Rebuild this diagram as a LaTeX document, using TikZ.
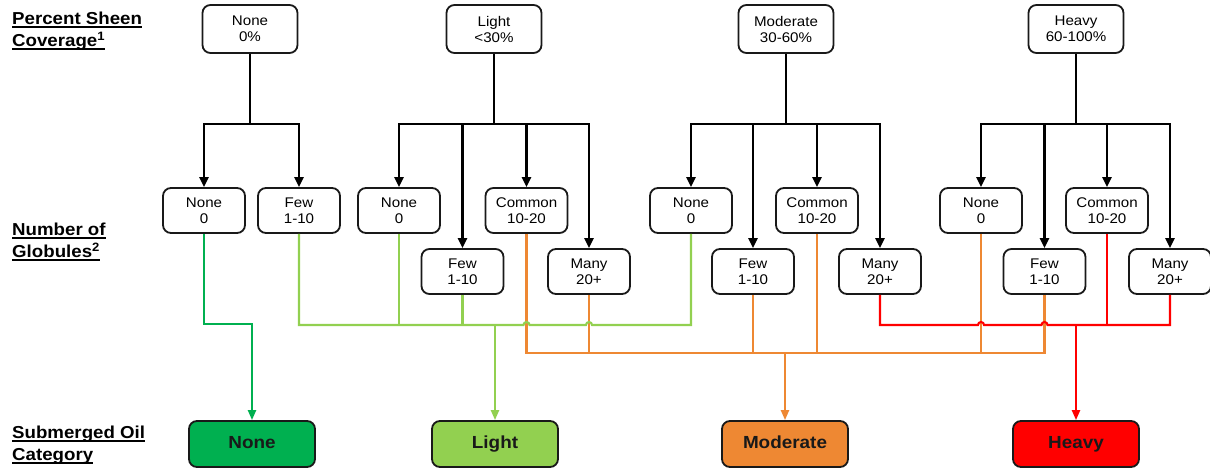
\documentclass[tikz,border=0pt]{standalone}
\usepackage{fontspec}
\setmainfont{Liberation Sans}[FakeStretch=1.08]
\usepackage{xcolor}
\usetikzlibrary{arrows.meta,calc,positioning}

\definecolor{oilnone}{HTML}{00B050}
\definecolor{oillight}{HTML}{92D050}
\definecolor{oilmod}{HTML}{EE8833}
\definecolor{oilheavy}{HTML}{FF0000}

% underline at a fixed depth
\newcommand{\ulab}[1]{\setbox0\hbox{#1}\rlap{\rule[-3pt]{\wd0}{1.4pt}}\box0}

\tikzset{
  box/.style={draw=black!90, line width=1.8pt, rounded corners=8pt, align=center,
    inner sep=0pt, font=\fontsize{14}{16}\selectfont},
  sheenbox/.style={box, minimum width=95pt, minimum height=48pt},
  globbox/.style={box, minimum width=82pt, minimum height=45pt},
  catbox/.style={box, minimum width=126pt, minimum height=46pt, text height=12.5pt,
    text depth=3.5pt, text=black!90, font=\fontsize{17.5}{20}\selectfont\bfseries},
  rowlabel/.style={anchor=north west, align=left, inner sep=0pt,
    font=\fontsize{17.3}{22}\selectfont\bfseries},
  tree/.style={line width=2.2pt, -{Triangle[length=10pt,width=9pt]}},
  flow/.style={line width=2.1pt},
  tip/.style={-{Triangle[length=10pt,width=8pt]}},
}

\begin{document}
\begin{tikzpicture}[x=1pt, y=-1pt]

    \useasboundingbox (0,0) rectangle (1210,471);

    % Row labels
    \node[rowlabel] (lsheen) at (12,12) {\ulab{Percent Sheen}\\\ulab{Coverage\textsuperscript{1}}};
    \node[rowlabel] (lglob) at (12,223) {\ulab{Number of}\\\ulab{Globules\textsuperscript{2}}};
    \node[rowlabel] (lcat) at (12,426) {\ulab{Submerged Oil}\\\ulab{Category}};

    % Sheen boxes
    \foreach \n/\x/\t in {s1/250/{None\\0\%}, s2/494/{Light\\<30\%},
                          s3/786/{Moderate\\30-60\%}, s4/1076/{Heavy\\60-100\%}} {
        \node[sheenbox] (\n) at (\x,29) {\t};
        \coordinate (b\n) at (\x,124);
        \draw[line width=2.2pt] (\n.south) -- (b\n);
    }

    % Globule boxes, upper row
    \foreach \n/\x/\t in {g1/204/{None\\0}, g2/299/{Few\\1-10}, g3/399/{None\\0},
                          g4/526.5/{Common\\10-20}, g5/691/{None\\0}, g6/817/{Common\\10-20},
                          g7/981/{None\\0}, g8/1107/{Common\\10-20}} {
        \node[globbox] (\n) at (\x,210.5) {\t};
    }

    % Globule boxes, lower row
    \foreach \n/\x/\t in {h1/462.5/{Few\\1-10}, h2/589/{Many\\20+},
                          h3/753/{Few\\1-10}, h4/880/{Many\\20+},
                          h5/1044.5/{Few\\1-10}, h6/1170/{Many\\20+}} {
        \node[globbox] (\n) at (\x,271.5) {\t};
    }

    % Tree arrows
    \foreach \p/\c in {s1/g1, s1/g2, s2/g3, s2/h1, s2/g4, s2/h2,
                       s3/g5, s3/h3, s3/g6, s3/h4, s4/g7, s4/h5, s4/g8, s4/h6} {
        \draw[tree] (b\p) -| (\c.north);
    }

    % Category boxes
    \node[catbox, fill=oilnone] (cnone) at (252,444) {None};
    \node[catbox, fill=oillight] (clight) at (495,444) {Light};
    \node[catbox, fill=oilmod] (cmod) at (785,444) {Moderate};
    \node[catbox, fill=oilheavy] (cheavy) at (1076,444) {Heavy};

    \coordinate (jnone) at (252,324);
    \coordinate (jlight) at (495,325);
    \coordinate (jmod) at (785,353);
    \coordinate (jheavy) at (1076,325);

    % Moderate
    \draw[flow, oilmod] (g4.south) |- (jmod) -| (h5.south);
    \foreach \n in {h2,h3,g6,g7} {
        \draw[flow, oilmod] (\n.south) -- (\n.south |- jmod);
    }
    \draw[flow, oilmod, tip] (jmod) -- (cmod.north);

    % None
    \draw[flow, oilnone, tip] (g1.south) |- (jnone) -- (cnone.north);

    % Light
    \draw[flow, oillight] (g2.south) |- ($(g4.south |- jlight)+(-3,0)$)
      arc[start angle=180, end angle=0, radius=3pt]
      -- ($(h2.south |- jlight)+(-3,0)$)
      arc[start angle=180, end angle=0, radius=3pt]
      -| (g5.south);
    \foreach \n in {g3,h1} {
        \draw[flow, oillight] (\n.south) -- (\n.south |- jlight);
    }
    \draw[flow, oillight, tip] (jlight) -- (clight.north);

    % Heavy
    \draw[flow, oilheavy] (h4.south) |- ($(g7.south |- jheavy)+(-3,0)$)
      arc[start angle=180, end angle=0, radius=3pt]
      -- ($(h5.south |- jheavy)+(-3,0)$)
      arc[start angle=180, end angle=0, radius=3pt]
      -| (h6.south);
    \draw[flow, oilheavy] (g8.south) -- (g8.south |- jheavy);
    \draw[flow, oilheavy, tip] (jheavy) -- (cheavy.north);
\end{tikzpicture}
\end{document}
